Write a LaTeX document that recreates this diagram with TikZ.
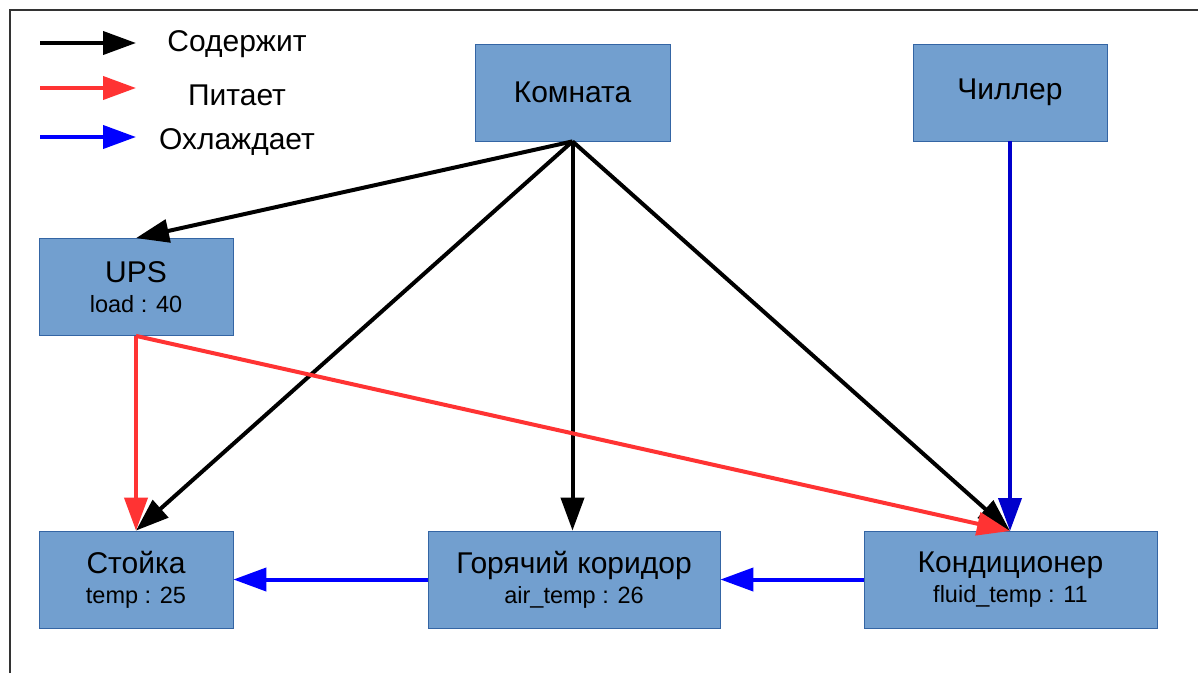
\documentclass[tikz,border=0pt]{standalone}
\usepackage{fontspec}
\setmainfont{Liberation Sans}
\usetikzlibrary{arrows.meta}
\definecolor{boxfill}{HTML}{729FCF}
\definecolor{boxdraw}{HTML}{3465A4}
\definecolor{feedred}{HTML}{FF3333}
\definecolor{coolblue}{HTML}{0000FF}
\definecolor{darkblue}{HTML}{0000CC}
\definecolor{framegray}{HTML}{333333}
\newcommand{\mainfs}{\fontsize{30}{30}\selectfont}
\newcommand{\subfs}{\fontsize{23.5}{24}\selectfont}
\tikzset{
  objbox/.style={draw=boxdraw, fill=boxfill, line width=0.8pt, inner sep=0pt, align=center, minimum height=97pt, font=\mainfs},
  tip/.style={-{Triangle[length=33pt,width=23pt]}},
  contains/.style={draw=black, line width=4pt, tip},
  feeds/.style={draw=feedred, line width=4pt, tip},
  cools/.style={draw=coolblue, line width=4pt, tip},
  coolsdark/.style={draw=darkblue, line width=4pt, tip},
  legarrow/.style={line width=4pt, tip},
  legtext/.style={font=\mainfs, anchor=center},
}
\begin{document}
\begin{tikzpicture}[x=1pt,y=-1pt]
\useasboundingbox (0,0) rectangle (1198,673);
\fill[white] (0,0) rectangle (1198,673);
% frame
\draw[framegray, line width=2pt] (10,673) -- (10,10) -- (1198,10);
% legend
\coordinate (l1s) at (40,43); \coordinate (l1e) at (136,43);
\coordinate (l2s) at (40,88); \coordinate (l2e) at (136,88);
\coordinate (l3s) at (40,137); \coordinate (l3e) at (136,137);
\draw[legarrow, black] (l1s) -- (l1e);
\draw[legarrow, feedred] (l2s) -- (l2e);
\draw[legarrow, coolblue] (l3s) -- (l3e);
\node[legtext] (t1) at (237,44) {Содержит};
\node[legtext] (t2) at (237,95) {Питает};
\node[legtext] (t3) at (237,142) {Охлаждает};
% boxes
\node[objbox, minimum width=195pt] (room) at (572.5,92.5) {Комната};
\node[objbox, minimum width=194pt] (chiller) at (1010,92.5) {Чиллер};
\node[objbox, minimum width=194pt] (ups) at (136,287) {UPS\\{\subfs load : 40}};
\node[objbox, minimum width=194pt] (rack) at (136,579.5) {Стойка\\{\subfs temp : 25}};
\node[objbox, minimum width=292pt] (hot) at (574,579.5) {Горячий коридор\\{\subfs air\_temp : 26}};
\node[objbox, minimum width=293pt] (ac) at (1010.5,579.5) {Кондиционер\\{\subfs fluid\_temp : 11}};
\coordinate (acin) at (1010,531);
% connectors
\draw[contains] (room.south) -- (ups.north);
\draw[contains] (room.south) -- (rack.north);
\draw[contains] (room.south) -- (room.south |- hot.north);
\draw[contains] (room.south) -- (acin);
\draw[feeds] (ups.south) -- (rack.north);
\draw[feeds] (ups.south) -- (acin);
\draw[coolsdark] (chiller.south) -- (acin);
\draw[cools] (ac.west) -- (hot.east);
\draw[cools] (hot.west) -- (rack.east);
\end{tikzpicture}
\end{document}
